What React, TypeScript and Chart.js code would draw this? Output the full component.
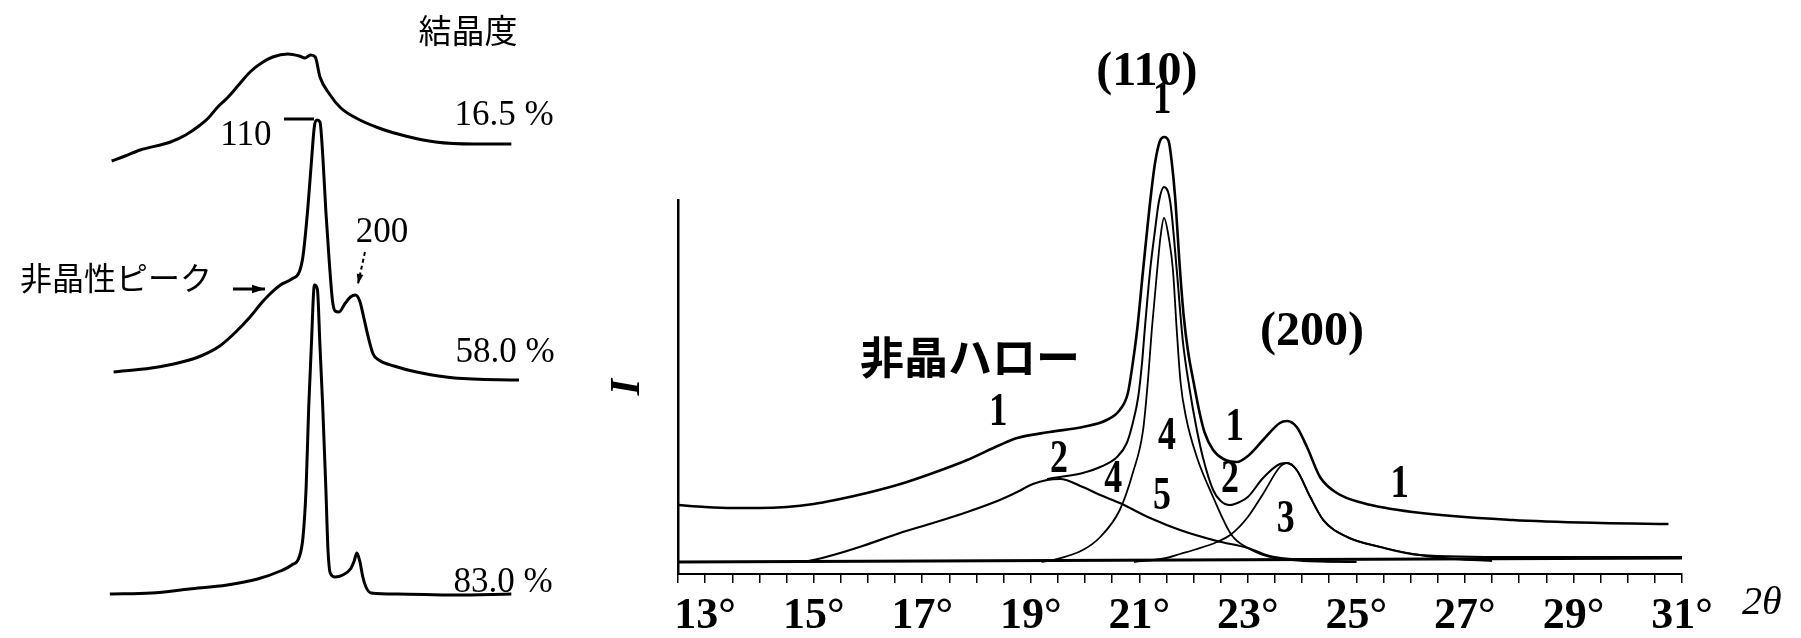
import React, { useEffect, useRef } from 'react';
import { Chart, registerables } from 'chart.js';

Chart.register(...registerables);

type Pt = [number, number];

// ---------------- Left panel: three diffraction traces (2θ °, intensity incl. vertical offset) ----------------
const trace165: Pt[] = [
  [8.85, 477], [9.67, 482], [10.6, 488], [12.46, 496], [13.39, 503], [14.2, 512], [14.78, 520],
  [15.36, 531], [15.94, 540], [16.64, 553], [17.34, 566], [18.04, 575], [18.73, 581], [19.66, 584],
  [20.36, 582], [20.71, 580], [21.06, 583], [21.34, 581], [21.63, 561], [22.21, 544], [22.91, 530],
  [23.84, 520], [25.24, 510], [26.87, 502], [28.72, 496], [31.05, 494], [33.37, 494],
];
const trace580: Pt[] = [
  [8.97, 266], [11.29, 270], [13.15, 276], [14.32, 282], [15.48, 292], [16.4, 305], [17.34, 321],
  [18.04, 335], [18.5, 343], [19.2, 353], [19.9, 359], [20.36, 366], [20.59, 382], [20.87, 427],
  [21.1, 475], [21.29, 512], [21.45, 518], [21.63, 516], [21.8, 483], [21.99, 427], [22.21, 374],
  [22.4, 337], [22.56, 327], [22.8, 326], [23.15, 334], [23.5, 341], [23.8, 343], [24.07, 337],
  [24.31, 321], [24.59, 301], [24.89, 284], [25.24, 278], [26.17, 272], [27.56, 266], [29.88, 260],
  [33.84, 258],
];
const trace830: Pt[] = [
  [8.74, 44], [11.29, 45], [13.62, 49], [15.94, 53], [17.8, 59], [19.2, 67], [19.9, 73], [20.36, 81],
  [20.59, 101], [20.78, 150], [20.94, 231], [21.1, 292], [21.29, 353], [21.47, 349], [21.63, 292],
  [21.8, 231], [21.99, 150], [22.12, 89], [22.26, 65], [22.56, 61], [23.03, 63], [23.5, 69],
  [23.73, 77], [23.89, 85], [24.07, 77], [24.26, 61], [24.45, 51], [24.77, 45], [26.4, 44],
  [29.88, 43], [33.37, 44],
];
const crystallinity = ['16.5 %', '58.0 %', '83.0 %'];

// ---------------- Right panel: profile separation (2θ °, I) ----------------
const curve1: Pt[] = [
  [12.5, 57], [13.0, 55], [13.5, 54], [14.0, 54], [14.5, 55], [15.0, 58], [15.4, 62], [15.98, 69],
  [16.6, 78], [17.2, 89], [17.83, 102], [18.43, 117], [18.75, 124], [19.35, 130], [19.96, 135],
  [20.4, 142], [20.64, 152], [20.79, 169], [20.88, 199], [20.96, 232], [21.07, 292], [21.21, 365],
  [21.29, 399], [21.38, 421], [21.46, 425], [21.54, 421], [21.6, 399], [21.66, 365], [21.75, 292],
  [21.82, 245], [21.9, 210], [22.0, 180], [22.1, 152], [22.2, 130], [22.36, 112], [22.55, 103],
  [22.8, 100], [23.0, 106], [23.28, 122], [23.59, 139], [23.72, 141], [23.9, 135], [24.09, 115],
  [24.33, 85], [24.64, 69], [25.12, 59], [26.04, 50], [27.88, 42], [29.5, 39], [30.75, 38],
];
const curve2: Pt[] = [
  [19.3, 83], [19.54, 85], [19.96, 89], [20.28, 95], [20.59, 105], [20.77, 119], [20.88, 139],
  [20.98, 165], [21.05, 199], [21.1, 232], [21.2, 292], [21.29, 332], [21.36, 360], [21.455, 375],
  [21.57, 360], [21.69, 292], [21.8, 222], [21.93, 172], [22.05, 135], [22.17, 105], [22.36, 72],
  [22.5, 61], [22.67, 57], [22.85, 60], [23.0, 65], [23.28, 84], [23.59, 98], [23.72, 99],
  [23.9, 92], [24.15, 65], [24.39, 42], [24.83, 25], [25.44, 15], [26.17, 7], [27.9, 5], [31.0, 5],
];
const halo: Pt[] = [
  [14.5, 0], [14.9, 1], [15.36, 7], [15.9, 16], [16.59, 29], [17.2, 39], [17.83, 50], [18.43, 62],
  [18.75, 70], [19.04, 78], [19.3, 82], [19.54, 83], [19.96, 75], [20.28, 67], [20.64, 59],
  [21.2, 44], [21.75, 32], [22.43, 21], [23.0, 14], [23.4, 6], [24.0, 2], [25.0, 0],
];
const peak110: Pt[] = [
  [19.2, 0], [19.41, 2], [19.96, 12], [20.28, 25], [20.64, 52], [20.88, 89], [21.07, 132],
  [21.16, 182], [21.23, 232], [21.33, 292], [21.39, 325], [21.455, 344], [21.55, 322], [21.62, 292],
  [21.69, 232], [21.76, 180], [21.86, 145], [22.06, 105], [22.36, 65], [22.7, 27], [23.0, 14],
  [23.4, 5], [24.0, 1], [25.0, 0],
];
const peak200: Pt[] = [
  [20.9, 0], [21.5, 4], [21.75, 8], [22.0, 12], [22.43, 20], [22.7, 28], [23.0, 45], [23.28, 68],
  [23.59, 95], [23.72, 99], [23.9, 92], [24.15, 65], [24.39, 42], [24.83, 25], [25.44, 15],
  [26.17, 7], [26.8, 3], [27.5, 1],
];
const baseline: Pt[] = [[12.5, 0], [31.0, 4]];

const xTickValues = [13, 15, 17, 19, 21, 23, 25, 27, 29, 31];
const xTickLabels = ['13°', '15°', '17°', '19°', '21°', '23°', '25°', '27°', '29°', '31°'];

// ---------------- annotations (data coordinates) ----------------
type Note = { text: string; x: number; y: number; font: string; sx?: number };
type Mark = { from: Pt; to: Pt; width: number; dash?: number[]; head?: number };

const SERIF = '"Liberation Serif", "Times New Roman", serif';
const CJK = '"Noto Sans CJK JP", sans-serif';

const leftNotes: Note[] = [
  { text: '結晶度', x: 30.71, y: 608, font: `33px ${CJK}` },
  { text: crystallinity[0], x: 32.92, y: 522, font: `35px ${SERIF}` },
  { text: crystallinity[1], x: 32.98, y: 285, font: `35px ${SERIF}` },
  { text: crystallinity[2], x: 32.86, y: 55, font: `35px ${SERIF}` },
  { text: '110', x: 17.09, y: 502, font: `35px ${SERIF}` },
  { text: '200', x: 25.44, y: 405, font: `35px ${SERIF}` },
  { text: '非晶性ピーク', x: 9.12, y: 360, font: `32px ${CJK}` },
];
const leftMarks: Mark[] = [
  { from: [19.42, 519], to: [21.26, 519], width: 3 },
  { from: [16.29, 349], to: [18.26, 349], width: 3, head: 13 },
  { from: [24.39, 386], to: [23.96, 354], width: 2, dash: [4, 3], head: 10 },
];

const digitFont = `bold 46px ${SERIF}`;
const rightNotes: Note[] = [
  { text: '(110)', x: 21.14, y: 489, font: `bold 48px ${SERIF}` },
  { text: '1', x: 21.42, y: 461, font: digitFont, sx: 0.8 },
  { text: '(200)', x: 24.18, y: 229, font: `bold 48px ${SERIF}` },
  { text: '非晶ハロー', x: 17.88, y: 205, font: `bold 44px ${CJK}` },
  { text: '1', x: 18.4, y: 149, font: digitFont, sx: 0.8 },
  { text: '2', x: 19.52, y: 102, font: digitFont, sx: 0.78 },
  { text: '4', x: 20.52, y: 82, font: digitFont, sx: 0.78 },
  { text: '4', x: 21.51, y: 125, font: digitFont, sx: 0.78 },
  { text: '5', x: 21.42, y: 65, font: digitFont, sx: 0.78 },
  { text: '1', x: 22.76, y: 134, font: digitFont, sx: 0.8 },
  { text: '2', x: 22.67, y: 82, font: digitFont, sx: 0.78 },
  { text: '3', x: 23.7, y: 42, font: digitFont, sx: 0.78 },
  { text: '1', x: 25.8, y: 77, font: digitFont, sx: 0.8 },
  { text: '2θ', x: 32.47, y: -41, font: `italic 40px ${SERIF}` },
];

const annotate = (notes: Note[], marks: Mark[]) => ({
  id: 'annotate',
  afterDatasetsDraw(chart: any) {
    const { ctx, scales } = chart;
    const px = (v: number) => scales.x.getPixelForValue(v);
    const py = (v: number) => scales.y.getPixelForValue(v);
    ctx.save();
    ctx.fillStyle = '#000';
    ctx.strokeStyle = '#000';
    for (const m of marks) {
      const x1 = px(m.from[0]), y1 = py(m.from[1]);
      const x2 = px(m.to[0]), y2 = py(m.to[1]);
      ctx.lineWidth = m.width;
      ctx.setLineDash(m.dash || []);
      ctx.beginPath();
      ctx.moveTo(x1, y1);
      ctx.lineTo(x2, y2);
      ctx.stroke();
      ctx.setLineDash([]);
      if (m.head) {
        const a = Math.atan2(y2 - y1, x2 - x1);
        const h = m.head;
        ctx.beginPath();
        ctx.moveTo(x2, y2);
        ctx.lineTo(x2 - h * Math.cos(a) + (h / 3) * Math.sin(a), y2 - h * Math.sin(a) - (h / 3) * Math.cos(a));
        ctx.lineTo(x2 - h * Math.cos(a) - (h / 3) * Math.sin(a), y2 - h * Math.sin(a) + (h / 3) * Math.cos(a));
        ctx.closePath();
        ctx.fill();
      }
    }
    ctx.textAlign = 'center';
    ctx.textBaseline = 'middle';
    for (const n of notes) {
      ctx.save();
      ctx.font = n.font;
      ctx.translate(px(n.x), py(n.y));
      ctx.scale(n.sx ?? 1, 1);
      ctx.fillText(n.text, 0, 0);
      ctx.restore();
    }
    ctx.restore();
  },
});

const toData = (pts: Pt[]) => pts.map(([x, y]) => ({ x, y }));
const line = (label: string, pts: Pt[], width: number) => ({
  label,
  data: toData(pts),
  borderColor: '#000',
  backgroundColor: '#000',
  borderWidth: width,
  pointRadius: 0,
  pointHoverRadius: 0,
  fill: false,
  cubicInterpolationMode: 'monotone',
  clip: false,
});

export default function App() {
  const leftRef = useRef<HTMLCanvasElement>(null);
  const rightRef = useRef<HTMLCanvasElement>(null);

  useEffect(() => {
    const left = new Chart(leftRef.current as HTMLCanvasElement, {
      type: 'line',
      data: {
        datasets: [
          line('16.5 %', trace165, 3),
          line('58.0 %', trace580, 3),
          line('83.0 %', trace830, 3),
        ],
      },
      options: {
        responsive: false,
        animation: false,
        devicePixelRatio: 1,
        events: [],
        layout: { padding: 0 },
        plugins: { legend: { display: false }, tooltip: { enabled: false } },
        scales: {
          x: { type: 'linear', display: false, min: 2, max: 38.81 },
          y: { type: 'linear', display: false, min: 0, max: 638 },
        },
      },
      plugins: [annotate(leftNotes, leftMarks)],
    } as any);

    const right = new Chart(rightRef.current as HTMLCanvasElement, {
      type: 'line',
      data: {
        datasets: [
          line('1', curve1, 2.6),
          line('2', curve2, 2),
          line('halo', halo, 2.2),
          line('110', peak110, 1.8),
          line('200', peak200, 1.8),
          line('baseline', baseline, 3),
        ],
      },
      options: {
        responsive: false,
        animation: false,
        devicePixelRatio: 1,
        events: [],
        layout: { padding: { top: 200, right: 119, bottom: 0, left: 0 } },
        plugins: { legend: { display: false }, tooltip: { enabled: false } },
        scales: {
          x: {
            type: 'linear',
            min: 12.5,
            max: 31,
            afterFit: (s: any) => { s.height = 64; },
            border: { display: true, color: '#000', width: 2 },
            grid: { display: true, drawOnChartArea: false, drawTicks: true, tickLength: 9, color: '#000', lineWidth: 1.5 },
            ticks: {
              stepSize: 0.5,
              maxTicksLimit: 100,
              autoSkip: false,
              maxRotation: 0,
              minRotation: 0,
              padding: 7,
              color: '#000',
              font: { family: SERIF, size: 44, weight: 'bold' },
              callback: (value: any) => {
                const i = xTickValues.indexOf(Number(value));
                return i >= 0 ? xTickLabels[i] : '';
              },
            },
          },
          y: {
            type: 'linear',
            min: -12,
            max: 362,
            afterFit: (s: any) => { s.width = 78; },
            border: { display: true, color: '#000', width: 2.5 },
            grid: { display: false },
            ticks: { display: false },
            title: {
              display: true,
              text: 'I',
              color: '#000',
              font: { family: SERIF, size: 42, style: 'italic', weight: 'bold' },
              padding: { top: 3, bottom: 0 },
            },
          },
        },
      },
      plugins: [annotate(rightNotes, [])],
    } as any);

    return () => {
      left.destroy();
      right.destroy();
    };
  }, []);

  return (
    <div style={{ position: 'fixed', left: 0, top: 0, width: 1801, height: 638, background: '#fff' }}>
      <canvas ref={leftRef} width={600} height={638} style={{ position: 'absolute', left: 0, top: 0 }} />
      <canvas ref={rightRef} width={1201} height={638} style={{ position: 'absolute', left: 600, top: 0 }} />
    </div>
  );
}
